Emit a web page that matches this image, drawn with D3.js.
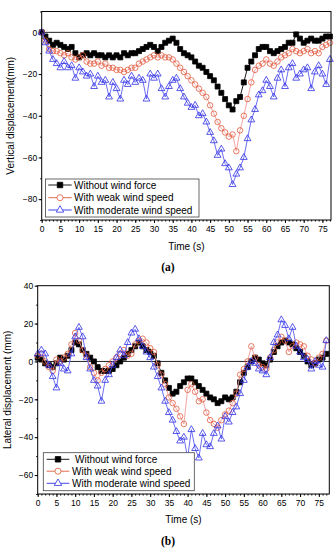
<!DOCTYPE html>
<html>
<head>
<meta charset="utf-8">
<script src="https://cdn.jsdelivr.net/npm/d3@7"></script>
<style>
  body { margin: 0; background: #fff; }
  svg { display: block; font-family: "Liberation Sans", Arial, sans-serif; }
</style>
</head>
<body>
<div id="chart"></div>
<script>
// time axis (s)
const time = [0,1,2,3,4,5,6,7,8,9,10,11,12,13,14,15,16,17,18,19,20,21,22,23,24,25,26,27,28,29,
  30,31,32,33,34,35,36,37,38,39,40,41,42,43,44,45,46,47,48,49,50,51,52,53,54,55,56,57,58,59,
  60,61,62,63,64,65,66,67,68,69,70,71,72,73,74,75,76,77]

// (a) vertical displacement, mm
const vertNoWind = [0,-2,-4,-6,-5,-6,-7,-8,-7,-10, -12,-11,-10,-11,-10,-11,-11,-12,-11,-12,
  -11,-12,-10,-11,-10,-10,-9,-8,-7,-6, -7,-9,-7,-5,-4,-3,-5,-8,-10,-11,
  -12,-14,-16,-17,-19,-21,-23,-26,-29,-32, -35,-37,-33,-31,-24,-17,-14,-11,-8,-7,
  -7,-9,-10,-9,-8,-7,-5,-5,-1,-3, -5,-4,-3,-4,-4,-3,-2,-2]
const vertWeak = [0,-4,-8,-9,-9,-10,-11,-10,-12,-13, -12,-11,-14,-15,-15,-14,-16,-15,-17,-17,
  -18,-18,-19,-18,-17,-17,-15,-14,-13,-12, -11,-12,-11,-12,-12,-13,-15,-17,-19,-21,
  -23,-25,-27,-29,-31,-35,-39,-43,-46,-48, -50,-49,-57,-47,-40,-32,-24,-18,-16,-15,
  -13,-15,-16,-14,-12,-11,-10,-8,-9,-10, -9,-8,-10,-9,-10,-7,-6,-5]
const vertModerate = [0,-5,-9,-13,-15,-17,-14,-17,-16,-22, -17,-19,-21,-20,-26,-21,-24,-23,-31,-24,
  -27,-32,-23,-25,-21,-24,-22,-23,-32,-20, -22,-20,-27,-31,-26,-23,-22,-27,-31,-34,
  -36,-35,-40,-39,-43,-48,-52,-59,-56,-63, -65,-73,-68,-65,-60,-51,-42,-37,-30,-28,
  -23,-26,-31,-22,-18,-26,-17,-15,-22,-20, -18,-17,-27,-19,-16,-20,-25,-13]

// (b) lateral displacement, mm
const latNoWind = [2,1,-1,-2,-3,-1,2,1,3,6, 10,9,6,4,2,0,-3,-5,-5,-5,
  -4,-2,0,2,4,6,8,10,8,6, 5,3,-1,-6,-10,-14,-17,-16,-13,-11,
  -9,-9,-11,-13,-15,-17,-19,-20,-22,-21, -19,-20,-19,-16,-11,-6,-3,0,2,1,
  -1,-2,1,5,8,10,11,10,9,7, 5,3,0,-2,-1,1,2,4]
const latWeak = [3,4,0,-3,-5,1,0,2,4,9, 15,11,6,3,-3,-6,-10,-6,-4,-2,
  0,2,4,6,3,4,9,11,12,10, 7,5,-2,-7,-12,-19,-22,-25,-29,-33,
  -15,-12,-16,-21,-20,-27,-31,-33,-35,-31, -28,-26,-22,-17,-7,-4,0,8,2,-2,
  -3,-4,2,6,10,13,11,5,8,10, 9,8,3,1,-1,2,4,11]
const latModerate = [4,6,4,-2,-8,-14,-1,-4,-5,4, 13,18,13,2,-4,-10,-13,-21,-10,-7,
  -2,2,6,3,10,15,17,12,8,5, 2,-3,-8,-14,-21,-27,-31,-37,-42,-40,
  -51,-36,-46,-51,-38,-44,-45,-38,-34,-41, -29,-32,-27,-24,-17,-10,-3,0,-1,-4,
  -5,-7,2,10,14,22,19,12,18,8, 5,2,1,-4,0,-2,-3,11]

const seriesNames = ['Without wind force', 'With weak wind speed', 'With moderate wind speed']
const xTicks = [0,5,10,15,20,25,30,35,40,45,50,55,60,65,70,75]
const vertTicks = [0,-20,-40,-60,-80]
const latTicks = [40,20,0,-20,-40,-60]

const width = 336, height = 550

let svg = d3.select('#chart').append('svg')
  .attr('width', width)
  .attr('height', height)

// marker / line looks for the three series
const looks = [
  { line: '#000000', stroke: '#000000', fill: '#000000', shape: d3.symbolSquare, size: 25 },
  { line: '#f19a9a', stroke: '#df5a3c', fill: 'none', shape: d3.symbolCircle, size: 24 },
  { line: '#5c5cf2', stroke: '#3030e6', fill: 'none', shape: d3.symbolTriangle, size: 20 }
]

let drawPanel = (p) => {
  const g = svg.append('g')
  const x = d3.scaleLinear().domain(p.xDomain).range([p.left, p.right])
  const y = d3.scaleLinear().domain(p.yDomain).range([p.bottom, p.top])

  // minor ticks
  g.append('g')
    .attr('transform', `translate(0,${p.bottom})`)
    .call(d3.axisBottom(x).tickValues(time).tickSize(1.5).tickFormat(''))
  g.append('g')
    .attr('transform', `translate(${p.left},0)`)
    .call(d3.axisLeft(y).ticks(10).tickSize(1.5).tickFormat(''))

  // major ticks
  g.append('g')
    .attr('transform', `translate(0,${p.bottom})`)
    .call(d3.axisBottom(x).tickValues(xTicks).tickSize(3).tickPadding(2.5))
  g.append('g')
    .attr('transform', `translate(${p.left},0)`)
    .call(d3.axisLeft(y).tickValues(p.yTicks).tickSize(3).tickPadding(1.5))

  g.selectAll('.domain').remove()
  g.selectAll('.tick line').attr('stroke', '#000')
  g.selectAll('.tick text').attr('font-size', 8.5).attr('fill', '#000')
    .attr('font-family', '"Liberation Sans", Arial, sans-serif')

  // zero line
  g.append('line')
    .attr('x1', p.left).attr('x2', p.right)
    .attr('y1', y(0)).attr('y2', y(0))
    .attr('stroke', '#222').attr('stroke-width', 1)

  // series
  p.series.forEach((vals, i) => {
    const lk = looks[i]
    const pts = vals.map((v, j) => [time[j], v])
    g.append('path')
      .datum(pts)
      .attr('fill', 'none')
      .attr('stroke', lk.line)
      .attr('stroke-width', 0.9)
      .attr('d', d3.line().x(d => x(d[0])).y(d => y(d[1])))
    g.selectAll(null)
      .data(pts)
      .enter()
      .append('path')
      .attr('transform', d => `translate(${x(d[0])},${y(d[1])})`)
      .attr('d', d3.symbol().type(lk.shape).size(lk.size))
      .attr('fill', lk.fill)
      .attr('stroke', lk.stroke)
      .attr('stroke-width', 0.8)
  })

  // frame
  g.append('rect')
    .attr('x', p.left).attr('y', p.top)
    .attr('width', p.right - p.left).attr('height', p.bottom - p.top)
    .attr('fill', 'none').attr('stroke', '#000').attr('stroke-width', 1)

  // legend
  const L = p.legend
  g.append('rect')
    .attr('x', L.x).attr('y', L.y).attr('width', L.w).attr('height', L.h)
    .attr('fill', '#fff').attr('stroke', '#444').attr('stroke-width', 0.8)
  seriesNames.forEach((name, i) => {
    const lk = looks[i]
    const ry = L.rows[i]
    g.append('line')
      .attr('x1', L.lineX[0]).attr('x2', L.lineX[1])
      .attr('y1', ry).attr('y2', ry)
      .attr('stroke', i === 0 ? '#000' : lk.stroke).attr('stroke-width', 0.9)
    g.append('path')
      .attr('transform', `translate(${(L.lineX[0] + L.lineX[1]) / 2},${ry})`)
      .attr('d', d3.symbol().type(lk.shape).size(lk.size * 1.2))
      .attr('fill', i === 0 ? '#000' : '#fff')
      .attr('stroke', lk.stroke).attr('stroke-width', 0.8)
    g.append('text')
      .attr('x', L.textX[i]).attr('y', ry)
      .attr('dy', '0.35em')
      .attr('font-size', 10)
      .text(name)
  })

  // titles
  g.append('text')
    .attr('x', (p.left + p.right) / 2).attr('y', p.xTitleY)
    .attr('text-anchor', 'middle').attr('font-size', 10)
    .text('Time (s)')
  g.append('text')
    .attr('transform', `translate(${p.yTitleX},${(p.top + p.bottom) / 2}) rotate(-90)`)
    .attr('text-anchor', 'middle').attr('font-size', 10)
    .text(p.yTitle)
  g.append('text')
    .attr('x', width / 2).attr('y', p.tagY)
    .attr('text-anchor', 'middle').attr('font-size', 11.5)
    .attr('font-weight', 'bold')
    .attr('font-family', '"Liberation Serif", "Times New Roman", serif')
    .text(p.tag)
}

drawPanel({
  left: 41.7, right: 331, top: 11.5, bottom: 220,
  xDomain: [0, 77.3], yDomain: [-90, 10], yTicks: vertTicks,
  series: [vertNoWind, vertWeak, vertModerate],
  legend: { x: 45.5, y: 179, w: 153.5, h: 38, rows: [185, 197.7, 210],
    lineX: [48.3, 71.7], textX: [74, 74, 74] },
  xTitleY: 250, yTitleX: 14, yTitle: 'Vertical displacement(mm)',
  tagY: 271, tag: '(a)'
})

drawPanel({
  left: 37.7, right: 329.3, top: 285.7, bottom: 494,
  xDomain: [0, 77.8], yDomain: [-70, 40], yTicks: latTicks,
  series: [latNoWind, latWeak, latModerate],
  legend: { x: 43.3, y: 452.7, w: 151, h: 38, rows: [459.3, 471.2, 483.3],
    lineX: [46.7, 69.3], textX: [75, 72, 72] },
  xTitleY: 523, yTitleX: 11, yTitle: 'Lateral displacement (mm)',
  tagY: 545, tag: '(b)'
})
</script>
</body>
</html>
